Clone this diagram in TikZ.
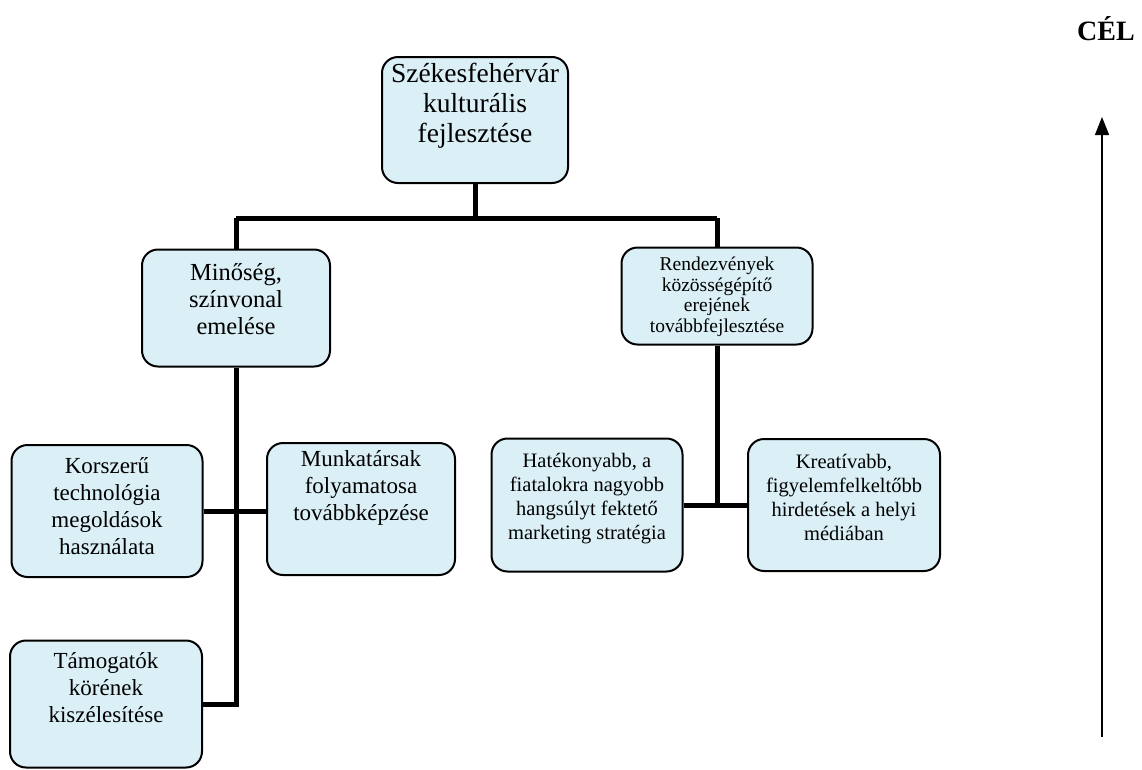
\documentclass[tikz,border=0pt]{standalone}
\usepackage{fontspec}
\setmainfont{Liberation Serif}
\usetikzlibrary{arrows.meta}
\definecolor{boxfill}{RGB}{218,239,246}
\begin{document}
\begin{tikzpicture}[x=1pt,y=-1pt,
  box/.style={draw=black, line width=2pt, rounded corners=16pt, fill=boxfill, inner sep=0pt},
  conn/.style={line width=5pt},
  lbl/.style={align=center, inner sep=0pt},
  big/.style={font=\fontsize{27.5}{30}\selectfont},
  mid/.style={font=\fontsize{24.5}{27}\selectfont},
  sml/.style={font=\fontsize{23}{27}\selectfont},
  tiny/.style={font=\fontsize{20.5}{24}\selectfont}]
\useasboundingbox (0,0) rectangle (1142,769);
\fill[white] (0,0) rectangle (1142,769);
% boxes
\node[box, minimum width=186pt, minimum height=126pt] (top)  at (475,120) {};
\node[box, minimum width=188pt, minimum height=117pt] (mino) at (236,308) {};
\node[box, minimum width=191pt, minimum height=97pt]  (rend) at (717,296) {};
\node[box, minimum width=191pt, minimum height=132pt] (kor)  at (107,511) {};
\node[box, minimum width=188pt, minimum height=132pt] (munk) at (361,509) {};
\node[box, minimum width=191pt, minimum height=133pt] (hat)  at (587,505) {};
\node[box, minimum width=192pt, minimum height=132pt] (kre)  at (844,505) {};
\node[box, minimum width=192pt, minimum height=127pt] (tam)  at (106,704) {};
% texts
\node[lbl, big] (ttop)  at (475,106) {Székesfehérvár\\kulturális\\fejlesztése};
\node[lbl, mid] (tmino) at (236,299) {Minőség,\\színvonal\\emelése};
\node[lbl, font=\fontsize{19.5}{20.5}\selectfont] (trend) at (717,297) {Rendezvények\\közösségépítő\\erejének\\továbbfejlesztése};
\node[lbl, sml] (tkor)  at (107,506) {Korszerű\\technológia\\megoldások\\használata};
\node[lbl, sml] (tmunk) at (361,488) {Munkatársak\\folyamatosa\\továbbképzése};
\node[lbl, tiny] (that) at (587,499) {Hatékonyabb, a\\fiatalokra nagyobb\\hangsúlyt fektető\\marketing stratégia};
\node[lbl, tiny] (tkre) at (844,497) {Kreatívabb,\\figyelemfelkeltőbb\\hirdetések a helyi\\médiában};
\node[lbl, sml] (ttam)  at (106,688) {Támogatók\\körének\\kiszélesítése};
% connectors
\coordinate (hl) at (236,218);
\coordinate (hr) at (717,218);
\draw[conn] (top.south) -- (top.south |- hl);
\draw[conn] (hl) -- (hr);
\draw[conn] (hl) -- (mino.north);
\draw[conn] (hr) -- (rend.north);
\draw[conn] (mino.south) -- (mino.south |- tam.east) -- (tam.east);
\draw[conn] (kor.east) -- (kor.east -| munk.west);
\draw[conn] (rend.south) -- (rend.south |- hat.east);
\draw[conn] (hat.east) -- (kre.west);
% goal arrow
\node[font=\bfseries\fontsize{28}{32}\selectfont, inner sep=0pt] (cel) at (1106,29) {CÉL};
\coordinate (abot) at (1102,737);
\coordinate (atop) at (1102,117);
\draw[line width=1.5pt, -{Triangle[length=18pt,width=14pt]}] (abot) -- (atop);
\end{tikzpicture}
\end{document}
